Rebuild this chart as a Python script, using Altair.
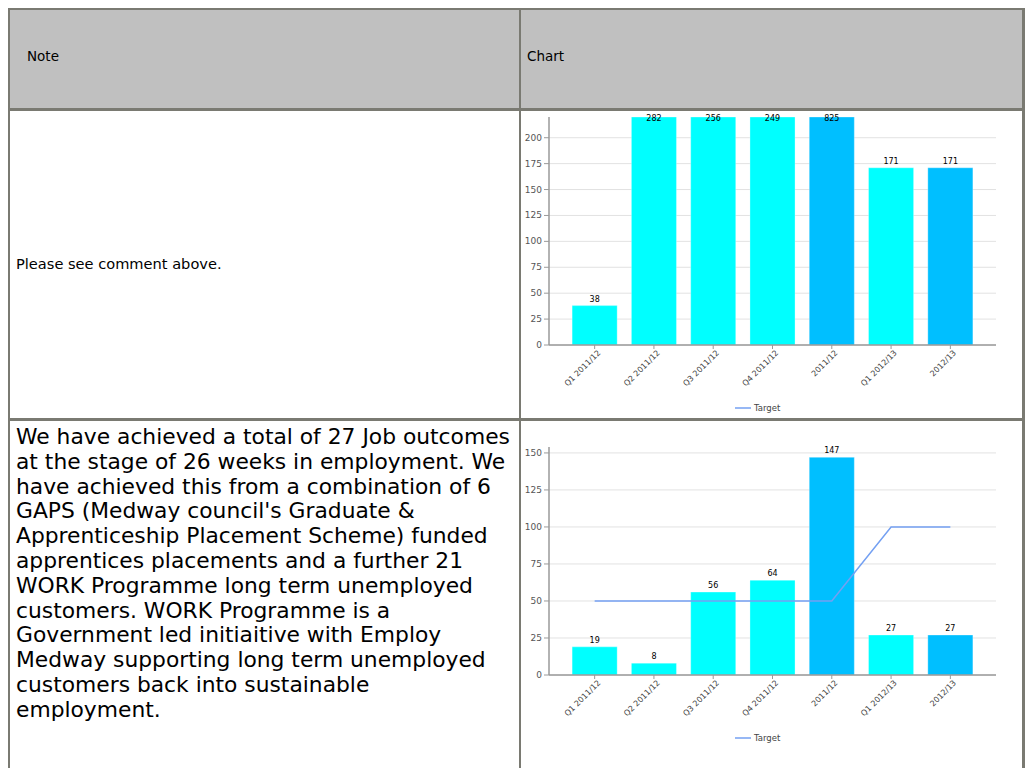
import altair as alt
import pandas as pd

# ---------------- data ----------------
categories = ["Q1 2011/12", "Q2 2011/12", "Q3 2011/12", "Q4 2011/12",
              "2011/12", "Q1 2012/13", "2012/13"]
bar_kind = ["quarter", "quarter", "quarter", "quarter", "year", "quarter", "year"]
chart1_values = [38, 282, 256, 249, 825, 171, 171]
chart2_values = [19, 8, 56, 64, 147, 27, 27]
chart2_target = [50, 50, 50, 50, 50, 100, 100]
chart1_ticks = [0, 25, 50, 75, 100, 125, 150, 175, 200]
chart2_ticks = [0, 25, 50, 75, 100, 125, 150]
header_labels = ["Note", "Chart"]
legend_label = "Target"
note1 = "Please see comment above."
note2_lines = [
    "We have achieved a total of 27 Job outcomes",
    "at the stage of 26 weeks in employment.  We",
    "have achieved this from a combination of 6",
    "GAPS (Medway council's Graduate &",
    "Apprenticeship Placement Scheme) funded",
    "apprentices placements and a further 21",
    "WORK Programme long term unemployed",
    "customers.  WORK Programme is a",
    "Government led initiaitive with Employ",
    "Medway supporting long term unemployed",
    "customers back into sustainable",
    "employment.",
]

# ---------------- style ----------------
W, H = 1017, 760
BORDER = "#7a7a72"
HEADER_BG = "#c0c0c0"
CYAN = "#00ffff"
SKY = "#00bfff"
TARGET = "#74a0f2"
GRID = "#e2e2e2"
AXIS = "#9a9a9a"
LBL = "#555555"
FONT = "DejaVu Sans"
PX0, PX1 = 541, 988          # plot area x (chart coords)

one = pd.DataFrame({"a": [0]})


def rect(x, x2, y, y2, color):
    return alt.Chart(one).mark_rect(color=color).encode(
        x=alt.value(x), x2=alt.value(x2), y=alt.value(y), y2=alt.value(y2))


def label(text, x, y, size, **kw):
    return alt.Chart(one).mark_text(align="left", baseline="middle", font=FONT,
                                    fontSize=size, color="#000000", **kw).encode(
        text=alt.value(text), x=alt.value(x), y=alt.value(y))


# ---------------- table decoration ----------------
decor = [
    rect(0, W, 0, 100, HEADER_BG),
    rect(0, W, 0, 2, BORDER),           # top
    rect(0, W, 100, 103, BORDER),       # under header
    rect(0, W, 410, 413, BORDER),       # between rows
    rect(0, 2, 0, H, BORDER),           # left
    rect(W - 3, W, 0, H, BORDER),       # right
    rect(511, 513, 0, H, BORDER),       # column divider
    label(header_labels[0], 19, 49, 13.5),
    label(header_labels[1], 519, 49, 13.5),
    label(note1, 8, 257, 14.6),
    alt.Chart(pd.DataFrame({"t": ["\n".join(note2_lines)]})).mark_text(
        align="left", baseline="middle", font=FONT, fontSize=21.8, lineHeight=24.8,
        lineBreak="\n", color="#000000").encode(
        text="t:N", x=alt.value(8), y=alt.value(429)),
]


def bar_panel(values, ticks, ymax, y0, ytop, target=None, leg_y=0):
    df = pd.DataFrame({"category": categories, "kind": bar_kind, "value": values})
    if target is not None:
        df["target"] = target
    tdf = pd.DataFrame({"tick": ticks})
    xs = alt.Scale(domain=categories, range=[PX0, PX1], paddingInner=0.24, paddingOuter=0.39)
    ys = alt.Scale(domain=[0, ymax], range=[y0, ytop], clamp=True, nice=False, zero=True)
    X = alt.X("category:N", scale=xs, axis=None, sort=categories)
    base = alt.Chart(df)
    grid = alt.Chart(tdf).mark_rule(color=GRID, strokeWidth=1).encode(
        y=alt.Y("tick:Q", scale=ys, axis=None), x=alt.value(PX0), x2=alt.value(PX1))
    ytick = alt.Chart(tdf).mark_rule(color=AXIS, strokeWidth=1).encode(
        y=alt.Y("tick:Q", scale=ys, axis=None), x=alt.value(PX0 - 5), x2=alt.value(PX0))
    ylab = alt.Chart(tdf).mark_text(align="right", baseline="middle", font=FONT,
                                    fontSize=9, color=LBL).encode(
        y=alt.Y("tick:Q", scale=ys, axis=None), x=alt.value(PX0 - 7), text="tick:Q")
    bars = base.mark_bar(stroke="#ffffff", strokeWidth=0.5, strokeOpacity=0.6).encode(
        x=X, y=alt.Y("value:Q", scale=ys, axis=None),
        color=alt.Color("kind:N", scale=alt.Scale(domain=["quarter", "year"], range=[CYAN, SKY]),
                        legend=None))
    vals_in = base.transform_filter(alt.datum.value <= ymax).mark_text(
        baseline="bottom", dy=-2, font=FONT, fontSize=8, color="#000000").encode(
        x=X, y=alt.Y("value:Q", scale=ys, axis=None), text="value:Q")
    vals_out = base.transform_filter(alt.datum.value > ymax).mark_text(
        baseline="top", dy=-2, font=FONT, fontSize=8, color="#000000").encode(
        x=X, y=alt.Y("value:Q", scale=ys, axis=None), text="value:Q")
    yaxis = alt.Chart(one).mark_rule(color=AXIS, strokeWidth=1.5).encode(
        x=alt.value(PX0), y=alt.value(ytop), y2=alt.value(y0))
    xaxis = alt.Chart(one).mark_rule(color=AXIS, strokeWidth=1.5).encode(
        x=alt.value(PX0), x2=alt.value(PX1), y=alt.value(y0))
    xtick = base.mark_rule(color=AXIS, strokeWidth=1).encode(
        x=X, y=alt.value(y0), y2=alt.value(y0 + 4))
    xlab = base.mark_text(angle=315, align="right", baseline="middle", font=FONT,
                          fontSize=8, color="#444444", dx=3.5, dy=3.5).encode(
        x=X, y=alt.value(y0 + 7), text="category:N")
    layers = [grid, ytick, ylab, bars, vals_in, vals_out, yaxis, xaxis, xtick, xlab]
    if target is not None:
        layers.append(base.mark_line(color=TARGET, strokeWidth=1.5).encode(
            x=X, y=alt.Y("target:Q", scale=ys, axis=None)))
    leg_line = alt.Chart(one).mark_rule(color=TARGET, strokeWidth=1.5).encode(
        x=alt.value(727), x2=alt.value(743), y=alt.value(leg_y))
    leg_text = alt.Chart(one).mark_text(align="left", baseline="middle", font=FONT,
                                        fontSize=8.5, color="#444444").encode(
        text=alt.value(legend_label), x=alt.value(746), y=alt.value(leg_y))
    layers += [leg_line, leg_text]
    return alt.layer(*layers)


panel1 = bar_panel(chart1_values, chart1_ticks, 220, 337, 109, None, 400)
panel2 = bar_panel(chart2_values, chart2_ticks, 154, 667, 439, chart2_target, 730)

chart = alt.layer(*decor, panel1, panel2).resolve_scale(
    x="independent", y="independent", color="independent"
).properties(width=W, height=H, padding=0, autosize="none", background="#ffffff"
).configure_view(stroke=None)

chart.save("out.html", embed_options={"renderer": "svg", "actions": False})
